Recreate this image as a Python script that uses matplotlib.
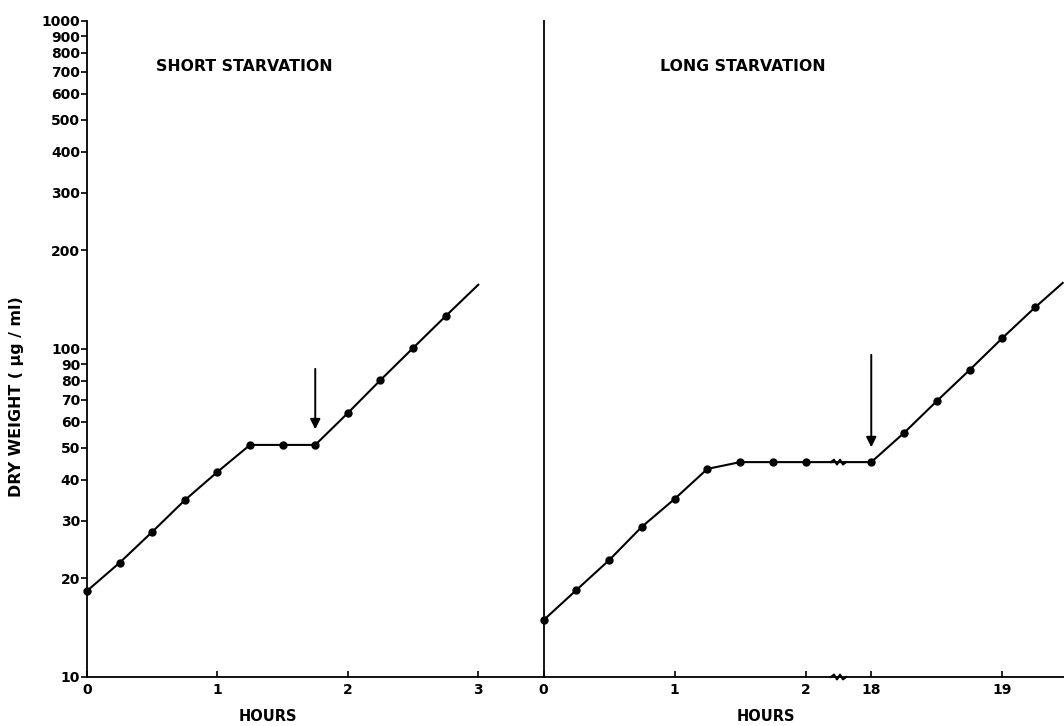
import numpy as np
import matplotlib
matplotlib.use('Agg')
import matplotlib.pyplot as plt
from matplotlib.transforms import ScaledTranslation

# data (hours, dry weight in ug/ml)
short_hours = [0, 0.25, 0.5, 0.75, 1.0, 1.25, 1.5, 1.75, 2.0, 2.25, 2.5, 2.75]
short_weight = [18.3, 22.3, 27.7, 34.6, 42.2, 51, 51, 51, 63.8, 80.4, 100.7, 126]
short_line_end = [3.0, 157]
short_arrow = [1.75, 88.7, 55.8]   # x, top, tip

long_hours = [0, 0.25, 0.5, 0.75, 1.0, 1.25, 1.5, 1.75, 2.0,
              18.0, 18.25, 18.5, 18.75, 19.0, 19.25]
long_weight = [14.9, 18.4, 22.7, 28.7, 34.9, 43.1, 45.2, 45.2, 45.2,
               45.2, 55.5, 69.4, 86.3, 108, 134]
long_line_end = [19.46, 159]
long_arrow = [18.0, 97.9, 49.2]
long_break = 10.0   # hour where the time axis is broken

y_ticks = [10, 20, 30, 40, 50, 60, 70, 80, 90, 100,
           200, 300, 400, 500, 600, 700, 800, 900, 1000]
short_xticks = [0, 1, 2, 3]
long_xticks = [0, 1, 2, 18, 19]

plt.rcParams['font.family'] = 'DejaVu Sans'
plt.rcParams['font.weight'] = 'bold'
W, H = 1064, 726


# broken time axis: 0-2 h normal, 2-18 h squeezed into half an hour
def fwd(h):
    h = np.asarray(h, dtype=float)
    return np.where(h <= 2, h, np.where(h >= 18, h - 15.5, 2 + (h - 2) / 32.0))


def inv(u):
    u = np.asarray(u, dtype=float)
    return np.where(u <= 2, u, np.where(u >= 2.5, u + 15.5, 2 + (u - 2) * 32.0))


def squiggle(ax, x, y):
    # little zigzag (in inches) centred on a data point
    zx = np.array([-0.075, -0.045, -0.015, 0.015, 0.045, 0.075])
    zy = np.array([0, 0.024, -0.024, 0.024, -0.024, 0])
    tr = fig.dpi_scale_trans + ScaledTranslation(x, y, ax.transData)
    ax.plot(zx, zy, color='black', lw=1.5, transform=tr, clip_on=False)


fig = plt.figure(figsize=(W / 100, H / 100), dpi=100)
ax1 = fig.add_axes([87 / W, 49 / H, 456.5 / W, 656 / H])
ax2 = fig.add_axes([543.5 / W, 49 / H, 520.5 / W, 656 / H])

for ax in (ax1, ax2):
    ax.set_yscale('log')
    ax.set_ylim(10, 1000)
    ax.spines['top'].set_visible(False)
    ax.spines['right'].set_visible(False)
    ax.spines['left'].set_linewidth(1.3)
    ax.spines['bottom'].set_linewidth(1.3)
    ax.yaxis.set_minor_locator(matplotlib.ticker.NullLocator())
    ax.tick_params(axis='x', direction='in', length=4, width=1.2, labelsize=10, pad=4)

# left panel
ax1.set_xlim(0, 3.5)
ax1.set_yticks(y_ticks)
ax1.set_yticklabels([str(v) for v in y_ticks])
ax1.tick_params(axis='y', direction='out', length=4, width=1.2, labelsize=10, pad=1)
ax1.set_xticks(short_xticks)
ax1.set_xticklabels([str(v) for v in short_xticks])

ax1.plot(short_hours + [short_line_end[0]], short_weight + [short_line_end[1]],
         color='black', lw=1.5, clip_on=False)
ax1.plot(short_hours, short_weight, 'o', color='black', ms=5, clip_on=False)
ax1.annotate('', xy=(short_arrow[0], short_arrow[2]), xytext=(short_arrow[0], short_arrow[1]),
             arrowprops=dict(arrowstyle='-|>', color='black', lw=1.4, mutation_scale=15))
ax1.text(0.344, 0.93, 'SHORT STARVATION', transform=ax1.transAxes,
         ha='center', va='center', fontsize=11.3, fontweight='bold')
ax1.set_xlabel('HOURS', fontsize=10.5, fontweight='bold')
ax1.xaxis.set_label_coords(0.397, -0.049)

# right panel
ax2.set_xscale('function', functions=(fwd, inv))
ax2.set_xlim(0, 19.47)
ax2.set_yticks([])
ax2.set_xticks(long_xticks)
ax2.set_xticklabels([str(v) for v in long_xticks])

ax2.plot(long_hours + [long_line_end[0]], long_weight + [long_line_end[1]],
         color='black', lw=1.5, clip_on=False)
ax2.plot(long_hours, long_weight, 'o', color='black', ms=5, clip_on=False)
squiggle(ax2, long_break, 45.2)
squiggle(ax2, long_break, 10)
ax2.annotate('', xy=(long_arrow[0], long_arrow[2]), xytext=(long_arrow[0], long_arrow[1]),
             arrowprops=dict(arrowstyle='-|>', color='black', lw=1.4, mutation_scale=15))
ax2.text(0.383, 0.93, 'LONG STARVATION', transform=ax2.transAxes,
         ha='center', va='center', fontsize=11.3, fontweight='bold')
ax2.set_xlabel('HOURS', fontsize=10.5, fontweight='bold')
ax2.xaxis.set_label_coords(0.427, -0.049)

fig.text(17 / W, 1 - 397 / H, 'DRY WEIGHT ( \u03bcg / ml)', rotation=90,
         ha='center', va='center', fontsize=11.4, fontweight='bold')

fig.savefig('out.png', dpi=100)
